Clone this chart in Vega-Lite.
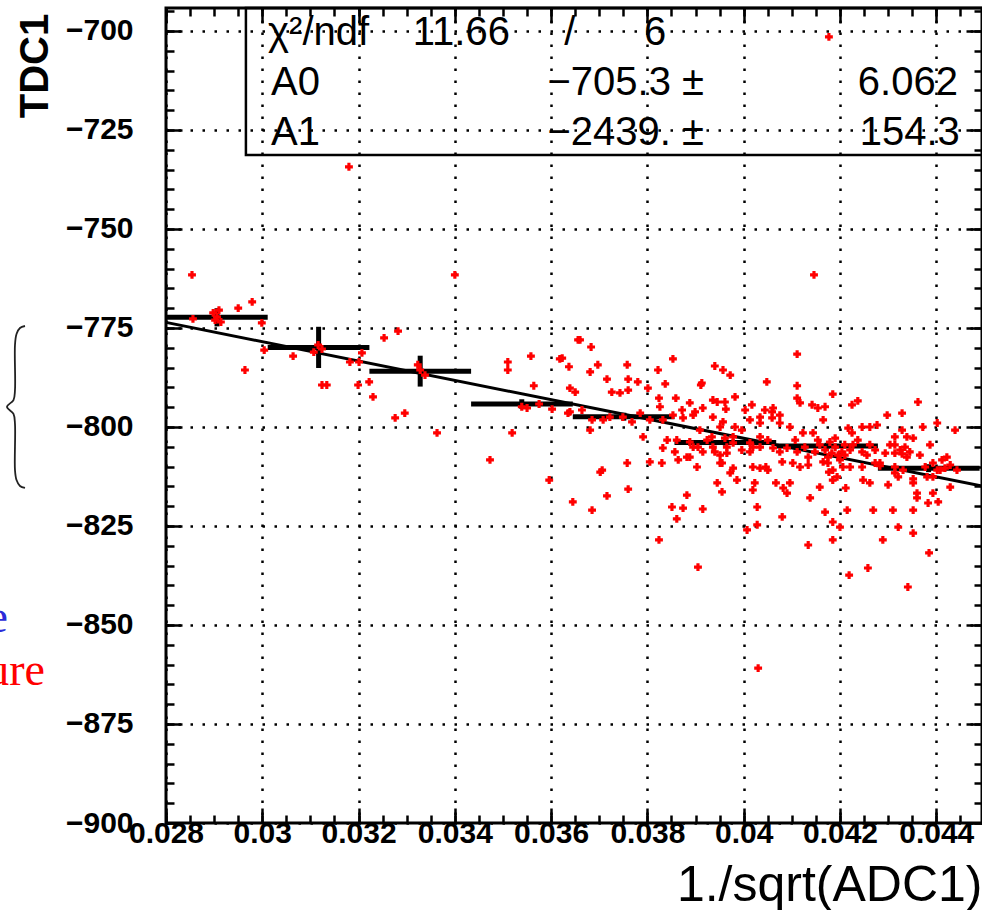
{
"$schema": "https://vega.github.io/schema/vega-lite/v6.json",
"width": 816,
"height": 815,
"autosize": {"type": "none"},
"padding": {"left": 166, "top": 8, "right": 0, "bottom": 87},
"background": "white",
"config": {
  "view": {"stroke": "black", "strokeWidth": 3, "fill": "white"},
  "axis": {"domain": false, "grid": false, "tickColor": "black", "tickWidth": 2.5, "labelColor": "black", "labelFlush": false, "labelOverlap": false, "labelBound": false, "titleColor": "black"}
},
"datasets": {
  "pts": [
{"x":0.02854,"y":-761.6},{"x":0.02898,"y":-771.2},{"x":0.02906,"y":-772.2},{"x":0.02914,"y":-773.5},{"x":0.02902,"y":-773.0},{"x":0.0291,"y":-770.5},{"x":0.02856,"y":-772.7},{"x":0.0295,"y":-770.0},{"x":0.02979,"y":-768.4},{"x":0.02999,"y":-773.7},{"x":0.03004,"y":-780.6},{"x":0.02964,"y":-785.6},{"x":0.03064,"y":-782.1},{"x":0.03116,"y":-779.3},{"x":0.03124,"y":-780.3},{"x":0.03107,"y":-781.1},{"x":0.03124,"y":-789.4},{"x":0.03134,"y":-789.4},{"x":0.03207,"y":-781.3},{"x":0.03201,"y":-783.6},{"x":0.03182,"y":-783.6},{"x":0.03199,"y":-789.4},{"x":0.03222,"y":-788.6},{"x":0.0323,"y":-792.4},{"x":0.03253,"y":-777.5},{"x":0.03282,"y":-775.8},{"x":0.03296,"y":-796.5},{"x":0.03276,"y":-797.7},{"x":0.03328,"y":-785.6},{"x":0.03338,"y":-786.9},{"x":0.03323,"y":-784.3},{"x":0.034,"y":-761.6},{"x":0.03363,"y":-801.5},{"x":0.0351,"y":-783.6},{"x":0.0351,"y":-785.6},{"x":0.03558,"y":-782.1},{"x":0.03564,"y":-789.6},{"x":0.03539,"y":-794.9},{"x":0.0355,"y":-795.2},{"x":0.03575,"y":-794.2},{"x":0.03602,"y":-795.5},{"x":0.03618,"y":-782.8},{"x":0.03637,"y":-784.8},{"x":0.03639,"y":-790.2},{"x":0.0365,"y":-791.2},{"x":0.03519,"y":-801.5},{"x":0.03635,"y":-796.5},{"x":0.03656,"y":-778.0},{"x":0.0318,"y":-734.3},{"x":0.04146,"y":-761.6},{"x":0.04177,"y":-701.5},{"x":0.0403,"y":-860.9},{"x":0.03473,"y":-808.3},{"x":0.03596,"y":-813.4},
{"x":0.0366,"y":-778.0},{"x":0.03683,"y":-779.8},{"x":0.03623,"y":-782.6},{"x":0.03697,"y":-784.3},{"x":0.03681,"y":-786.1},{"x":0.03758,"y":-784.3},{"x":0.03822,"y":-785.6},{"x":0.03853,"y":-782.8},{"x":0.0394,"y":-784.6},{"x":0.03957,"y":-785.6},{"x":0.03972,"y":-786.9},{"x":0.04111,"y":-781.6},{"x":0.04048,"y":-788.6},{"x":0.04111,"y":-789.6},{"x":0.03716,"y":-787.9},{"x":0.0376,"y":-787.9},{"x":0.0378,"y":-788.6},{"x":0.03726,"y":-791.2},{"x":0.03743,"y":-791.4},{"x":0.0376,"y":-790.7},{"x":0.03801,"y":-790.2},{"x":0.03837,"y":-789.1},{"x":0.03824,"y":-792.7},{"x":0.03859,"y":-792.7},{"x":0.03911,"y":-789.4},{"x":0.03982,"y":-792.4},{"x":0.03936,"y":-793.2},{"x":0.03961,"y":-793.7},{"x":0.03888,"y":-793.9},{"x":0.03915,"y":-795.2},{"x":0.03963,"y":-795.5},{"x":0.04003,"y":-795.7},{"x":0.04017,"y":-794.4},{"x":0.04044,"y":-795.7},{"x":0.04061,"y":-795.2},{"x":0.04111,"y":-792.7},{"x":0.04117,"y":-793.9},{"x":0.04142,"y":-794.4},{"x":0.04154,"y":-795.2},{"x":0.04169,"y":-794.9},{"x":0.04185,"y":-791.7},{"x":0.04225,"y":-794.4},{"x":0.04237,"y":-793.4},{"x":0.04362,"y":-793.7},{"x":0.04298,"y":-797.0},{"x":0.04329,"y":-796.5},
{"x":0.03639,"y":-796.2},{"x":0.03664,"y":-795.7},{"x":0.03685,"y":-798.2},{"x":0.03708,"y":-798.2},{"x":0.03722,"y":-797.5},{"x":0.03749,"y":-797.5},{"x":0.03768,"y":-798.7},{"x":0.03785,"y":-796.5},{"x":0.03805,"y":-798.2},{"x":0.03826,"y":-794.9},{"x":0.03872,"y":-795.7},{"x":0.03874,"y":-797.7},{"x":0.03899,"y":-796.2},{"x":0.03936,"y":-797.5},{"x":0.03957,"y":-798.7},{"x":0.03982,"y":-800.0},{"x":0.03996,"y":-800.8},{"x":0.04013,"y":-798.2},{"x":0.04034,"y":-799.0},{"x":0.04059,"y":-797.7},{"x":0.04075,"y":-799.0},{"x":0.04096,"y":-800.0},{"x":0.04123,"y":-801.5},{"x":0.04144,"y":-801.5},{"x":0.04165,"y":-798.2},{"x":0.04217,"y":-800.3},{"x":0.04246,"y":-800.0},{"x":0.04262,"y":-800.0},{"x":0.04277,"y":-799.5},{"x":0.04314,"y":-802.5},{"x":0.04329,"y":-800.8},{"x":0.04339,"y":-802.5},{"x":0.04352,"y":-802.8},{"x":0.04372,"y":-800.0},{"x":0.04402,"y":-799.0},{"x":0.04439,"y":-800.8},
{"x":0.03681,"y":-800.8},{"x":0.03791,"y":-802.5},{"x":0.03841,"y":-803.3},{"x":0.03832,"y":-805.3},{"x":0.03857,"y":-806.3},{"x":0.03864,"y":-808.3},{"x":0.03888,"y":-803.8},{"x":0.03905,"y":-805.1},{"x":0.03915,"y":-806.3},{"x":0.03934,"y":-802.5},{"x":0.0394,"y":-806.3},{"x":0.03951,"y":-807.1},{"x":0.03961,"y":-802.8},{"x":0.03978,"y":-804.0},{"x":0.03965,"y":-805.1},{"x":0.03996,"y":-805.8},{"x":0.04013,"y":-806.3},{"x":0.04019,"y":-805.1},{"x":0.04034,"y":-802.5},{"x":0.0405,"y":-803.3},{"x":0.04061,"y":-805.3},{"x":0.04075,"y":-806.3},{"x":0.0409,"y":-805.3},{"x":0.04107,"y":-803.3},{"x":0.04111,"y":-806.3},{"x":0.04127,"y":-805.1},{"x":0.04134,"y":-807.6},{"x":0.04148,"y":-806.3},{"x":0.04179,"y":-803.8},{"x":0.0419,"y":-805.1},{"x":0.04204,"y":-806.3},{"x":0.04183,"y":-806.6},{"x":0.04196,"y":-807.1},{"x":0.0421,"y":-804.5},{"x":0.04227,"y":-804.5},{"x":0.04246,"y":-806.3},{"x":0.04262,"y":-804.5},{"x":0.04294,"y":-806.6},{"x":0.04314,"y":-806.6},{"x":0.04325,"y":-805.8},{"x":0.04345,"y":-806.3},{"x":0.04335,"y":-805.1},
{"x":0.03758,"y":-809.1},{"x":0.03702,"y":-811.4},{"x":0.03805,"y":-808.8},{"x":0.0383,"y":-809.1},{"x":0.03882,"y":-807.6},{"x":0.03903,"y":-810.1},{"x":0.03955,"y":-809.1},{"x":0.03978,"y":-810.4},{"x":0.04019,"y":-810.1},{"x":0.04034,"y":-810.4},{"x":0.04046,"y":-810.1},{"x":0.0405,"y":-810.9},{"x":0.0408,"y":-808.8},{"x":0.04102,"y":-809.1},{"x":0.04117,"y":-810.1},{"x":0.04134,"y":-809.6},{"x":0.04175,"y":-809.1},{"x":0.04185,"y":-810.9},{"x":0.04177,"y":-811.4},{"x":0.04206,"y":-810.1},{"x":0.04221,"y":-810.1},{"x":0.04246,"y":-810.1},{"x":0.04273,"y":-809.1},{"x":0.04283,"y":-809.1},{"x":0.04314,"y":-811.6},{"x":0.04321,"y":-812.6},{"x":0.04331,"y":-810.9},{"x":0.04377,"y":-810.1},{"x":0.04393,"y":-809.1},{"x":0.04412,"y":-808.3},{"x":0.04422,"y":-807.6},{"x":0.04443,"y":-810.9},{"x":0.04381,"y":-812.6},{"x":0.04185,"y":-813.4},{"x":0.04194,"y":-812.6},{"x":0.03972,"y":-811.6},{"x":0.03986,"y":-813.4},{"x":0.03945,"y":-814.1},{"x":0.03955,"y":-816.4},{"x":0.04023,"y":-814.1},{"x":0.04019,"y":-815.9},{"x":0.04067,"y":-814.1},{"x":0.04096,"y":-814.1},{"x":0.04082,"y":-815.4},{"x":0.0409,"y":-816.7},{"x":0.04138,"y":-817.9},{"x":0.04158,"y":-815.2},{"x":0.04212,"y":-815.4},{"x":0.04248,"y":-813.4},{"x":0.04262,"y":-814.1},{"x":0.043,"y":-814.6},{"x":0.04352,"y":-814.1},{"x":0.0436,"y":-816.7},{"x":0.0436,"y":-817.9},{"x":0.04393,"y":-816.7},{"x":0.04404,"y":-818.9},{"x":0.04383,"y":-819.2},{"x":0.04429,"y":-815.2},
{"x":0.0376,"y":-815.7},{"x":0.03716,"y":-817.4},{"x":0.03645,"y":-818.9},{"x":0.03685,"y":-821.0},{"x":0.03706,"y":-810.9},{"x":0.03882,"y":-817.2},{"x":0.03851,"y":-820.2},{"x":0.03874,"y":-820.5},{"x":0.03915,"y":-820.7},{"x":0.03861,"y":-823.2},{"x":0.04028,"y":-820.2},{"x":0.0408,"y":-822.7},{"x":0.04169,"y":-821.5},{"x":0.04185,"y":-824.0},{"x":0.04215,"y":-821.0},{"x":0.04269,"y":-821.0},{"x":0.0431,"y":-821.0},{"x":0.04352,"y":-821.0},{"x":0.04007,"y":-826.0},{"x":0.04028,"y":-824.7},{"x":0.042,"y":-825.3},{"x":0.04321,"y":-825.3},{"x":0.04352,"y":-826.8},{"x":0.03824,"y":-828.5},{"x":0.04185,"y":-828.5},{"x":0.04289,"y":-828.5},{"x":0.04134,"y":-829.8},{"x":0.04385,"y":-831.8},{"x":0.03905,"y":-835.4},{"x":0.04258,"y":-835.6},{"x":0.04219,"y":-837.4},{"x":0.04341,"y":-840.4},
{"x":0.04225,"y":-801.5},{"x":0.04314,"y":-804.5},{"x":0.04256,"y":-807.1},{"x":0.04339,"y":-807.6},{"x":0.04314,"y":-810.1},{"x":0.04402,"y":-810.9},{"x":0.04418,"y":-810.4},{"x":0.04393,"y":-812.6},{"x":0.04059,"y":-796.2},{"x":0.04075,"y":-797.0},{"x":0.04329,"y":-806.8},{"x":0.04283,"y":-809.8},{"x":0.04352,"y":-813.1},{"x":0.04158,"y":-804.5},{"x":0.04169,"y":-805.8},{"x":0.04175,"y":-807.6},{"x":0.042,"y":-808.3},{"x":0.04154,"y":-803.3},{"x":0.0419,"y":-802.8},{"x":0.0421,"y":-807.1},{"x":0.04165,"y":-808.8},
{"x":0.03913,"y":-788.9},{"x":0.03945,"y":-793.7},{"x":0.04034,"y":-797.5},{"x":0.03951,"y":-800.0},{"x":0.03978,"y":-802.5},{"x":0.04013,"y":-804.0},{"x":0.04034,"y":-805.1},{"x":0.03965,"y":-806.6},{"x":0.03951,"y":-809.1},{"x":0.03888,"y":-807.6},{"x":0.03832,"y":-798.2},{"x":0.03853,"y":-797.0},{"x":0.03895,"y":-797.0},{"x":0.03909,"y":-800.8},{"x":0.03924,"y":-803.3},{"x":0.03936,"y":-805.1},{"x":0.03895,"y":-805.1},{"x":0.03861,"y":-803.3},{"x":0.04221,"y":-805.8},{"x":0.04237,"y":-803.3},{"x":0.04273,"y":-805.8},{"x":0.04304,"y":-804.5},{"x":0.04366,"y":-807.1},{"x":0.04387,"y":-804.5},{"x":0.04408,"y":-810.9},{"x":0.04429,"y":-809.6}
  ],
  "prof": [
{"x0":0.028,"x1":0.0301125,"xc":0.02906,"m":-772.3,"lo":-774.6,"hi":-770.0},
{"x0":0.0301125,"x1":0.032225,"xc":0.03117,"m":-779.9,"lo":-785.1,"hi":-774.7},
{"x0":0.032225,"x1":0.0343375,"xc":0.03328,"m":-785.9,"lo":-789.8,"hi":-782.0},
{"x0":0.0343375,"x1":0.03645,"xc":0.03539,"m":-794.2,"lo":-795.4,"hi":-793.0},
{"x0":0.03645,"x1":0.0385625,"xc":0.03751,"m":-797.4,"lo":-798.4,"hi":-796.4},
{"x0":0.0385625,"x1":0.040675,"xc":0.03962,"m":-803.9,"lo":-804.7,"hi":-803.1},
{"x0":0.040675,"x1":0.0427875,"xc":0.04173,"m":-804.8,"lo":-805.6,"hi":-804.0},
{"x0":0.0427875,"x1":0.0449,"xc":0.04384,"m":-810.4,"lo":-811.4,"hi":-809.4}
  ]
},
"resolve": {"axis": {"x": "independent", "y": "independent"}},
"layer": [
  {
    "data": {"values": [{"x": 0.028, "y": -773.59}, {"x": 0.04495, "y": -814.93}]},
    "mark": {"type": "line", "color": "black", "strokeWidth": 3},
    "encoding": {
      "x": {"field": "x", "type": "quantitative", "scale": {"domain": [0.028, 0.04495], "nice": false, "zero": false},
        "axis": {"orient": "bottom", "title": null, "labels": false, "tickSize": -8,
          "values": [0.028,0.0285,0.029,0.0295,0.03,0.0305,0.031,0.0315,0.032,0.0325,0.033,0.0335,0.034,0.0345,0.035,0.0355,0.036,0.0365,0.037,0.0375,0.038,0.0385,0.039,0.0395,0.04,0.0405,0.041,0.0415,0.042,0.0425,0.043,0.0435,0.044,0.0445]}},
      "y": {"field": "y", "type": "quantitative", "scale": {"domain": [-900, -694.2], "nice": false, "zero": false},
        "axis": {"orient": "left", "title": null, "labels": false, "tickSize": -8,
          "values": [-900,-895,-890,-885,-880,-875,-870,-865,-860,-855,-850,-845,-840,-835,-830,-825,-820,-815,-810,-805,-800,-795,-790,-785,-780,-775,-770,-765,-760,-755,-750,-745,-740,-735,-730,-725,-720,-715,-710,-705,-700,-695]}}
    }
  },
  {
    "data": {"name": "prof"},
    "mark": {"type": "rule", "color": "black", "strokeWidth": 5},
    "encoding": {
      "x": {"field": "x0", "type": "quantitative",
        "axis": {"orient": "top", "title": null, "labels": false, "tickSize": -15,
          "values": [0.028,0.03,0.032,0.034,0.036,0.038,0.04,0.042,0.044]}},
      "x2": {"field": "x1"},
      "y": {"field": "m", "type": "quantitative",
        "axis": {"orient": "right", "title": null, "labels": false, "tickSize": -16,
          "values": [-900,-875,-850,-825,-800,-775,-750,-725,-700]}}
    }
  },
  {
    "data": {"name": "prof"},
    "mark": {"type": "rule", "color": "black", "strokeWidth": 5},
    "encoding": {
      "x": {"field": "xc", "type": "quantitative",
        "axis": {"orient": "top", "title": null, "labels": false, "tickSize": -8,
          "values": [0.028,0.0285,0.029,0.0295,0.03,0.0305,0.031,0.0315,0.032,0.0325,0.033,0.0335,0.034,0.0345,0.035,0.0355,0.036,0.0365,0.037,0.0375,0.038,0.0385,0.039,0.0395,0.04,0.0405,0.041,0.0415,0.042,0.0425,0.043,0.0435,0.044,0.0445]}},
      "y": {"field": "lo", "type": "quantitative",
        "axis": {"orient": "right", "title": null, "labels": false, "tickSize": -8,
          "values": [-900,-895,-890,-885,-880,-875,-870,-865,-860,-855,-850,-845,-840,-835,-830,-825,-820,-815,-810,-805,-800,-795,-790,-785,-780,-775,-770,-765,-760,-755,-750,-745,-740,-735,-730,-725,-720,-715,-710,-705,-700,-695]}},
      "y2": {"field": "hi"}
    }
  },
  {
    "data": {"name": "pts"},
    "mark": {"type": "point", "shape": "cross", "filled": true, "size": 62, "color": "#ff0000", "opacity": 1},
    "encoding": {
      "x": {"field": "x", "type": "quantitative",
        "axis": {"orient": "bottom", "values": [0.028,0.03,0.032,0.034,0.036,0.038,0.04,0.042,0.044], "format": "~g",
          "title": "1./sqrt(ADC1)", "grid": true, "gridDash": [2.5, 9.5], "gridWidth": 2.5, "gridColor": "black", "gridOpacity": 1,
          "tickSize": -15, "labelFont": "Liberation Sans", "labelFontSize": 30, "labelFontWeight": "bold",
          "labelPadding": 25, "labelBaseline": "middle", "labelAlign": "center",
          "titleFont": "Liberation Sans", "titleFontSize": 50, "titleFontWeight": "normal",
          "titleAlign": "right", "titleBaseline": "middle", "titleX": 816, "titleY": 62, "titleAngle": 0}},
      "y": {"field": "y", "type": "quantitative",
        "axis": {"orient": "left", "values": [-900,-875,-850,-825,-800,-775,-750,-725,-700], "format": "d",
          "title": "TDC1", "grid": true, "gridDash": [2.5, 9.5], "gridWidth": 2.5, "gridColor": "black", "gridOpacity": 1,
          "tickSize": -16, "labelFont": "Liberation Sans", "labelFontSize": 30, "labelFontWeight": "bold",
          "labelPadding": 49, "labelAlign": "right", "labelBaseline": "middle",
          "titleFont": "Liberation Sans", "titleFontSize": 40, "titleFontWeight": "bold",
          "titleAngle": 270, "titleAlign": "center", "titleBaseline": "middle", "titleX": -130.5, "titleY": 57.5}}
    }
  },
  {
    "data": {"values": [{"x1": 0.02966, "x2": 0.0453, "y1": -731.3, "y2": -694.2}]},
    "mark": {"type": "rect", "fillOpacity": 0, "stroke": "black", "strokeWidth": 2.5},
    "encoding": {
      "x": {"field": "x1", "type": "quantitative", "axis": null},
      "x2": {"field": "x2"},
      "y": {"field": "y1", "type": "quantitative", "axis": null},
      "y2": {"field": "y2"}
    }
  },
  {
    "data": {"values": [{"x": 0.03012, "y": -703.5, "t": "χ²/ndf"}, {"x": 0.03018, "y": -716.2, "t": "A0"}, {"x": 0.03018, "y": -728.8, "t": "A1"}]},
    "mark": {"type": "text", "align": "left", "baseline": "alphabetic", "font": "Liberation Sans", "fontSize": 40, "color": "black"},
    "encoding": {
      "x": {"field": "x", "type": "quantitative", "axis": null},
      "y": {"field": "y", "type": "quantitative", "axis": null},
      "text": {"field": "t"}
    }
  },
  {
    "data": {"values": [{"x": 0.035145, "y": -703.5, "t": "11.66"}, {"x": 0.039175, "y": -716.2, "t": "−705.3 ±"}, {"x": 0.04445, "y": -716.2, "t": "6.062"}, {"x": 0.039175, "y": -728.8, "t": "−2439. ±"}, {"x": 0.04449, "y": -728.8, "t": "154.3"}]},
    "mark": {"type": "text", "align": "right", "baseline": "alphabetic", "font": "Liberation Sans", "fontSize": 40, "color": "black"},
    "encoding": {
      "x": {"field": "x", "type": "quantitative", "axis": null},
      "y": {"field": "y", "type": "quantitative", "axis": null},
      "text": {"field": "t"}
    }
  },
  {
    "data": {"values": [{"x": 0.03639, "y": -703.5, "t": "/"}, {"x": 0.03816, "y": -703.5, "t": "6"}]},
    "mark": {"type": "text", "align": "center", "baseline": "alphabetic", "font": "Liberation Sans", "fontSize": 40, "color": "black"},
    "encoding": {
      "x": {"field": "x", "type": "quantitative", "axis": null},
      "y": {"field": "y", "type": "quantitative", "axis": null},
      "text": {"field": "t"}
    }
  },
  {
    "data": {"values": [
      {"i": 0, "x": 0.025071, "y": -774.5}, {"i": 1, "x": 0.024967, "y": -775.0}, {"i": 2, "x": 0.024895, "y": -776.5},
      {"i": 3, "x": 0.024863, "y": -779.3}, {"i": 4, "x": 0.024863, "y": -790.7}, {"i": 5, "x": 0.024832, "y": -793.2},
      {"i": 6, "x": 0.024697, "y": -794.9}, {"i": 7, "x": 0.024832, "y": -796.7}, {"i": 8, "x": 0.024863, "y": -799.2},
      {"i": 9, "x": 0.024863, "y": -810.9}, {"i": 10, "x": 0.024895, "y": -813.4}, {"i": 11, "x": 0.024967, "y": -814.9},
      {"i": 12, "x": 0.025071, "y": -815.4}]},
    "mark": {"type": "line", "interpolate": "catmull-rom", "color": "#222222", "strokeWidth": 1.8},
    "encoding": {
      "x": {"field": "x", "type": "quantitative", "axis": null},
      "y": {"field": "y", "type": "quantitative", "axis": null},
      "order": {"field": "i", "type": "quantitative"}
    }
  },
  {
    "data": {"values": [{"x": 0.024718, "y": -851.8, "t": "e"}]},
    "mark": {"type": "text", "align": "right", "baseline": "alphabetic", "font": "Liberation Serif", "fontSize": 46, "color": "#2b2bd9"},
    "encoding": {
      "x": {"field": "x", "type": "quantitative", "axis": null},
      "y": {"field": "y", "type": "quantitative", "axis": null},
      "text": {"field": "t"}
    }
  },
  {
    "data": {"values": [{"x": 0.025487, "y": -865.2, "t": "ure"}]},
    "mark": {"type": "text", "align": "right", "baseline": "alphabetic", "font": "Liberation Serif", "fontSize": 46, "color": "#ff0000"},
    "encoding": {
      "x": {"field": "x", "type": "quantitative", "axis": null},
      "y": {"field": "y", "type": "quantitative", "axis": null},
      "text": {"field": "t"}
    }
  }
]
}
